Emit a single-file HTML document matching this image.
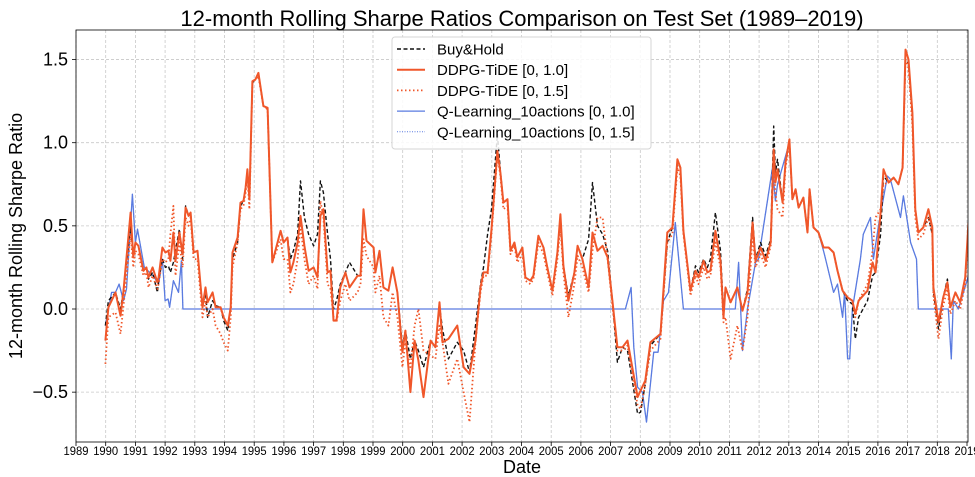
<!DOCTYPE html>
<html><head><meta charset="utf-8">
<style>
html,body{margin:0;padding:0;background:#fff;}
svg{display:block;font-family:"Liberation Sans","DejaVu Sans",sans-serif;}
</style></head>
<body>
<svg id="chart" width="975" height="477" viewBox="0 0 975 477" xmlns="http://www.w3.org/2000/svg">
<text x="522" y="26" font-size="22" text-anchor="middle" fill="#000">12-month Rolling Sharpe Ratios Comparison on Test Set (1989–2019)</text>
<text transform="translate(22,236) rotate(-90)" font-size="18" text-anchor="middle" fill="#000">12-month Rolling Sharpe Ratio</text>
<text x="522" y="473" font-size="18" text-anchor="middle" fill="#000">Date</text>
<g id="grid"></g>
<g id="series"></g>
<g id="axes"></g>
<g id="legend"></g>
</svg>
<script>
// ---- data ----
const ddpg10Dates = [1989.99,1990.09,1990.33,1990.50,1990.60,1990.84,1990.93,1991.00,1991.10,1991.27,1991.37,1991.44,1991.58,1991.74,1991.78,1991.91,1992.01,1992.11,1992.18,1992.28,1992.35,1992.48,1992.59,1992.69,1992.79,1992.86,1992.96,1993.09,1993.26,1993.36,1993.43,1993.60,1993.70,1993.87,1993.97,1994.11,1994.21,1994.27,1994.44,1994.54,1994.64,1994.71,1994.77,1994.84,1994.94,1995.04,1995.14,1995.31,1995.45,1995.61,1995.89,1995.99,1996.12,1996.22,1996.32,1996.46,1996.56,1996.69,1996.83,1997.00,1997.13,1997.23,1997.33,1997.47,1997.57,1997.67,1997.77,1997.90,1998.07,1998.21,1998.48,1998.58,1998.68,1998.78,1999.02,1999.08,1999.22,1999.35,1999.52,1999.66,1999.82,1999.99,2000.09,2000.26,2000.40,2000.53,2000.70,2000.94,2001.10,2001.24,2001.34,2001.54,2001.84,2002.05,2002.25,2002.45,2002.62,2002.72,2002.86,2002.99,2003.19,2003.29,2003.39,2003.53,2003.63,2003.76,2003.86,2004.03,2004.13,2004.30,2004.40,2004.57,2004.74,2004.87,2005.04,2005.21,2005.31,2005.41,2005.58,2005.78,2005.89,2006.05,2006.26,2006.39,2006.56,2006.73,2006.90,2007.06,2007.23,2007.40,2007.57,2007.91,2008.01,2008.17,2008.34,2008.68,2008.91,2009.08,2009.25,2009.35,2009.45,2009.69,2009.86,2009.96,2010.13,2010.26,2010.36,2010.53,2010.70,2010.80,2010.87,2011.04,2011.27,2011.44,2011.61,2011.78,2011.88,2012.05,2012.22,2012.39,2012.49,2012.55,2012.62,2012.79,2012.89,2013.02,2013.12,2013.23,2013.33,2013.49,2013.63,2013.70,2013.83,2014.00,2014.17,2014.34,2014.51,2014.64,2014.81,2014.98,2015.14,2015.24,2015.35,2015.65,2015.82,2015.92,2016.09,2016.19,2016.36,2016.53,2016.69,2016.83,2016.93,2017.03,2017.16,2017.26,2017.36,2017.53,2017.70,2017.83,2017.87,2018.04,2018.20,2018.34,2018.44,2018.61,2018.77,2018.94,2019.05];
const ddpg10Values = [-0.19,0.01,0.10,-0.04,0.11,0.58,0.31,0.40,0.38,0.23,0.25,0.19,0.25,0.16,0.19,0.37,0.34,0.35,0.29,0.46,0.29,0.46,0.33,0.61,0.56,0.58,0.34,0.35,0.01,0.13,0.04,0.10,0.01,0.01,-0.05,-0.10,0.01,0.34,0.43,0.64,0.65,0.73,0.84,0.66,1.37,1.38,1.42,1.22,1.21,0.28,0.47,0.40,0.43,0.22,0.28,0.40,0.56,0.38,0.23,0.25,0.19,0.56,0.60,0.22,0.23,-0.07,-0.07,0.13,0.22,0.13,0.20,0.20,0.60,0.41,0.37,0.22,0.35,0.13,0.11,0.25,0.10,-0.26,-0.13,-0.50,-0.19,-0.31,-0.53,-0.19,-0.23,0.04,-0.20,-0.18,-0.10,-0.35,-0.39,-0.19,0.13,0.22,0.22,0.48,0.95,0.82,0.64,0.66,0.35,0.40,0.31,0.37,0.19,0.17,0.20,0.44,0.37,0.25,0.11,0.34,0.57,0.26,0.05,0.22,0.38,0.30,0.13,0.46,0.35,0.38,0.31,0.05,-0.23,-0.23,-0.19,-0.53,-0.49,-0.43,-0.20,-0.15,0.46,0.49,0.90,0.85,0.47,0.11,0.23,0.19,0.29,0.22,0.23,0.47,0.29,-0.05,0.13,0.04,0.13,-0.01,0.10,0.52,0.29,0.37,0.29,0.40,0.96,0.76,0.84,0.64,0.88,1.02,0.66,0.72,0.61,0.67,0.46,0.72,0.49,0.46,0.37,0.37,0.34,0.23,0.11,0.07,0.05,-0.03,0.05,0.11,0.28,0.22,0.58,0.84,0.76,0.79,0.75,0.85,1.56,1.50,1.18,0.60,0.46,0.49,0.60,0.49,0.13,-0.08,0.07,0.16,0.01,0.10,0.04,0.19,0.52];

const buyHoldDates = [1989.99,1990.09,1990.33,1990.50,1990.60,1990.84,1990.93,1991.00,1991.10,1991.27,1991.37,1991.44,1991.58,1991.74,1991.78,1991.91,1992.01,1992.11,1992.18,1992.28,1992.35,1992.48,1992.59,1992.69,1992.79,1992.86,1992.96,1993.09,1993.26,1993.36,1993.43,1993.60,1993.70,1993.87,1993.97,1994.11,1994.21,1994.27,1994.44,1994.54,1994.64,1994.71,1994.77,1994.84,1994.94,1995.04,1995.14,1995.31,1995.45,1995.61,1995.89,1995.99,1996.12,1996.22,1996.32,1996.46,1996.56,1996.69,1996.83,1997.00,1997.13,1997.23,1997.33,1997.47,1997.57,1997.67,1997.77,1997.90,1998.07,1998.21,1998.48,1998.58,1998.68,1998.78,1999.02,1999.08,1999.22,1999.35,1999.52,1999.66,1999.82,1999.99,2000.09,2000.26,2000.40,2000.53,2000.70,2000.94,2001.10,2001.24,2001.34,2001.54,2001.84,2002.05,2002.25,2002.45,2002.62,2002.72,2002.86,2002.99,2003.19,2003.29,2003.39,2003.53,2003.63,2003.76,2003.86,2004.03,2004.13,2004.30,2004.40,2004.57,2004.74,2004.87,2005.04,2005.21,2005.31,2005.41,2005.58,2005.78,2005.89,2006.05,2006.26,2006.39,2006.56,2006.73,2006.90,2007.06,2007.23,2007.40,2007.57,2007.91,2008.01,2008.17,2008.34,2008.68,2008.91,2009.08,2009.25,2009.35,2009.45,2009.69,2009.86,2009.96,2010.13,2010.26,2010.36,2010.53,2010.70,2010.80,2010.87,2011.04,2011.27,2011.44,2011.61,2011.78,2011.88,2012.05,2012.22,2012.39,2012.49,2012.55,2012.62,2012.79,2012.89,2013.02,2013.12,2013.23,2013.33,2013.49,2013.63,2013.70,2013.83,2014.00,2014.17,2014.34,2014.51,2014.64,2014.81,2014.98,2015.14,2015.24,2015.35,2015.65,2015.82,2015.92,2016.09,2016.19,2016.36,2016.53,2016.69,2016.83,2016.93,2017.03,2017.16,2017.26,2017.36,2017.53,2017.70,2017.83,2017.87,2018.04,2018.20,2018.34,2018.44,2018.61,2018.77,2018.94,2019.05];
const buyHoldValues = [-0.10,0.05,0.10,0.00,0.11,0.50,0.31,0.40,0.38,0.23,0.25,0.18,0.22,0.10,0.17,0.30,0.25,0.26,0.22,0.28,0.35,0.48,0.30,0.62,0.56,0.58,0.34,0.35,0.01,0.10,-0.05,0.05,0.02,0.01,-0.07,-0.13,0.01,0.30,0.40,0.62,0.65,0.73,0.82,0.66,1.36,1.38,1.42,1.22,1.21,0.28,0.47,0.40,0.43,0.30,0.35,0.45,0.77,0.55,0.45,0.38,0.45,0.77,0.70,0.45,0.30,0.00,0.05,0.15,0.22,0.28,0.20,0.20,0.58,0.41,0.37,0.22,0.35,0.13,0.11,0.25,0.10,-0.22,-0.13,-0.30,-0.19,-0.25,-0.35,-0.19,-0.23,0.02,-0.12,-0.30,-0.20,-0.25,-0.38,-0.10,0.15,0.25,0.45,0.60,1.05,0.83,0.64,0.66,0.35,0.40,0.31,0.37,0.19,0.17,0.20,0.44,0.37,0.25,0.11,0.34,0.55,0.26,0.08,0.22,0.38,0.30,0.42,0.76,0.50,0.45,0.35,0.05,-0.32,-0.23,-0.25,-0.63,-0.62,-0.45,-0.22,-0.15,0.40,0.49,0.88,0.85,0.47,0.11,0.26,0.22,0.30,0.25,0.30,0.58,0.35,-0.02,0.13,0.04,0.13,-0.01,0.12,0.55,0.30,0.40,0.32,0.42,1.10,0.82,0.90,0.64,0.88,1.02,0.66,0.72,0.61,0.67,0.46,0.72,0.49,0.46,0.37,0.37,0.34,0.23,0.11,0.05,0.03,-0.18,-0.05,0.05,0.20,0.22,0.45,0.80,0.76,0.79,0.75,0.85,1.50,1.48,1.15,0.60,0.46,0.49,0.55,0.45,0.10,-0.12,0.07,0.18,0.01,0.10,0.04,0.19,0.50];

const ddpg15Dates = [1989.99,1990.09,1990.33,1990.50,1990.60,1990.84,1990.93,1991.00,1991.10,1991.27,1991.37,1991.44,1991.58,1991.74,1991.78,1991.91,1992.01,1992.11,1992.18,1992.28,1992.35,1992.48,1992.59,1992.69,1992.79,1992.86,1992.96,1993.09,1993.26,1993.36,1993.43,1993.60,1993.70,1993.87,1993.97,1994.11,1994.21,1994.27,1994.44,1994.54,1994.64,1994.71,1994.77,1994.84,1994.94,1995.04,1995.14,1995.31,1995.45,1995.61,1995.89,1995.99,1996.12,1996.22,1996.32,1996.46,1996.56,1996.69,1996.83,1997.00,1997.13,1997.23,1997.33,1997.47,1997.57,1997.67,1997.77,1997.90,1998.07,1998.21,1998.48,1998.58,1998.68,1998.78,1999.02,1999.08,1999.22,1999.35,1999.52,1999.66,1999.82,1999.99,2000.09,2000.26,2000.40,2000.53,2000.70,2000.94,2001.10,2001.24,2001.34,2001.54,2001.84,2002.05,2002.25,2002.45,2002.62,2002.72,2002.86,2002.99,2003.19,2003.29,2003.39,2003.53,2003.63,2003.76,2003.86,2004.03,2004.13,2004.30,2004.40,2004.57,2004.74,2004.87,2005.04,2005.21,2005.31,2005.41,2005.58,2005.78,2005.89,2006.05,2006.26,2006.39,2006.56,2006.73,2006.90,2007.06,2007.23,2007.40,2007.57,2007.91,2008.01,2008.17,2008.34,2008.68,2008.91,2009.08,2009.25,2009.35,2009.45,2009.69,2009.86,2009.96,2010.13,2010.26,2010.36,2010.53,2010.70,2010.80,2010.87,2011.04,2011.27,2011.44,2011.61,2011.78,2011.88,2012.05,2012.22,2012.39,2012.49,2012.55,2012.62,2012.79,2012.89,2013.02,2013.12,2013.23,2013.33,2013.49,2013.63,2013.70,2013.83,2014.00,2014.17,2014.34,2014.51,2014.64,2014.81,2014.98,2015.14,2015.24,2015.35,2015.65,2015.82,2015.92,2016.09,2016.19,2016.36,2016.53,2016.69,2016.83,2016.93,2017.03,2017.16,2017.26,2017.36,2017.53,2017.70,2017.83,2017.87,2018.04,2018.20,2018.34,2018.44,2018.61,2018.77,2018.94,2019.05];
const ddpg15Values = [-0.33,-0.05,-0.02,-0.15,0.02,0.45,0.25,0.35,0.33,0.20,0.22,0.13,0.20,0.12,0.15,0.30,0.28,0.30,0.45,0.62,0.20,0.40,0.25,0.55,0.50,0.55,0.30,0.30,-0.05,0.05,-0.05,0.00,-0.10,-0.15,-0.20,-0.25,-0.05,0.25,0.40,0.60,0.62,0.70,0.80,0.60,1.36,1.38,1.40,1.22,1.20,0.28,0.42,0.30,0.30,0.10,0.15,0.30,0.50,0.30,0.15,0.20,0.12,0.65,0.55,0.15,0.12,-0.05,-0.08,0.05,0.15,0.05,0.10,0.15,0.42,0.32,0.25,0.10,0.20,-0.05,-0.10,0.10,-0.05,-0.35,-0.20,-0.35,-0.10,0.00,-0.25,-0.28,-0.30,-0.10,-0.20,-0.45,-0.30,-0.50,-0.68,-0.20,0.10,0.20,0.20,0.45,0.93,0.80,0.60,0.62,0.33,0.38,0.28,0.33,0.17,0.15,0.18,0.40,0.33,0.22,0.08,0.30,0.50,0.22,-0.05,0.15,0.32,0.25,0.10,0.35,0.55,0.55,0.30,0.02,-0.25,-0.25,-0.22,-0.58,-0.60,-0.45,-0.25,-0.18,0.40,0.45,0.85,0.80,0.45,0.08,0.20,0.15,0.25,0.18,0.20,0.40,0.25,-0.08,-0.05,-0.30,-0.10,-0.25,-0.05,0.45,0.25,0.33,0.25,0.38,0.90,0.70,0.60,0.55,0.85,1.00,0.66,0.72,0.61,0.67,0.46,0.72,0.49,0.46,0.37,0.37,0.34,0.23,0.11,0.07,0.05,-0.05,0.05,0.15,0.35,0.55,0.60,0.75,0.76,0.79,0.75,0.85,1.50,1.45,1.10,0.55,0.42,0.45,0.55,0.45,0.08,-0.18,0.02,0.12,-0.03,0.05,0.00,0.15,0.48];

const qlearn10Dates = [1989.99,1990.20,1990.33,1990.45,1990.60,1990.70,1990.90,1991.00,1991.07,1991.30,1991.60,1991.78,1991.91,1992.00,1992.10,1992.15,1992.28,1992.45,1992.55,1992.60,2007.50,2007.69,2007.78,2007.91,2008.07,2008.21,2008.45,2008.60,2008.78,2008.95,2009.18,2009.45,2011.20,2011.31,2011.44,2011.61,2011.88,2011.98,2012.45,2012.55,2012.62,2013.02,2013.12,2013.23,2013.33,2013.49,2013.63,2013.70,2013.83,2014.00,2014.17,2014.24,2014.51,2014.64,2014.81,2014.88,2014.98,2015.05,2015.14,2015.41,2015.51,2015.75,2015.85,2016.02,2016.32,2016.42,2016.76,2016.86,2017.10,2017.30,2017.36,2018.37,2018.47,2018.54,2018.71,2019.05];
const qlearn10Values = [-0.10,0.10,0.10,0.15,0.05,0.12,0.69,0.40,0.48,0.25,0.20,0.15,0.30,0.05,0.06,0.01,0.17,0.10,0.29,0.00,0.00,0.13,-0.23,-0.47,-0.50,-0.68,-0.26,-0.26,0.05,0.10,0.52,0.00,0.00,0.28,-0.25,0.00,0.28,0.30,0.85,0.65,0.75,1.00,0.66,0.72,0.61,0.67,0.46,0.72,0.49,0.46,0.35,0.30,0.10,0.15,-0.05,0.10,-0.30,-0.30,0.00,0.30,0.45,0.55,0.30,0.50,0.80,0.78,0.55,0.68,0.40,0.30,0.00,0.00,-0.30,0.05,0.00,0.20];

const qlearn15Dates = qlearn10Dates.slice();
const qlearn15Values = qlearn10Values.slice();

const xTickYears = [1989,1990,1991,1992,1993,1994,1995,1996,1997,1998,1999,2000,2001,2002,2003,2004,2005,2006,2007,2008,2009,2010,2011,2012,2013,2014,2015,2016,2017,2018,2019];
const yTickValues = [-0.5,0.0,0.5,1.0,1.5];
const yTickLabels = ["\u22120.5","0.0","0.5","1.0","1.5"];
const legendLabels = ["Buy&Hold","DDPG-TiDE [0, 1.0]","DDPG-TiDE [0, 1.5]","Q-Learning_10actions [0, 1.0]","Q-Learning_10actions [0, 1.5]"];

// ---- layout ----
const NS = "http://www.w3.org/2000/svg";
const L = 76, R = 968, T = 30, B = 442;
const X0 = 1989, XPX = 29.7;
const Y0PX = 309, YPX = 166.3;
function xs(v){ return L + (v - X0) * XPX; }
function ys(v){ return Y0PX - v * YPX; }
function mk(tag, attrs, parent){
  const e = document.createElementNS(NS, tag);
  for (const k in attrs) e.setAttribute(k, attrs[k]);
  parent.appendChild(e); return e;
}
const grid = document.getElementById('grid');
const axes = document.getElementById('axes');
const series = document.getElementById('series');
const legend = document.getElementById('legend');

xTickYears.forEach(function(yr){
  const x = xs(yr);
  const g = mk('line', {x1:x, x2:x, y1:T, y2:B, stroke:'#c8c8c8', 'stroke-width':0.8, 'stroke-dasharray':'3,2'}, grid);
  
  
  const t = mk('line', {x1:x, x2:x, y1:B, y2:B+4, stroke:'#000', 'stroke-width':0.8}, axes);
  
  
  const lb = mk('text', {x:x, y:B+13, 'font-size':12, 'text-anchor':'middle', fill:'#000', textLength:25, lengthAdjust:'spacingAndGlyphs'}, axes);
  
  
  lb.textContent = String(yr);
});
yTickValues.forEach(function(v, i){
  const y = ys(v);
  const g = mk('line', {x1:L, x2:R, y1:y, y2:y, stroke:'#c8c8c8', 'stroke-width':0.8, 'stroke-dasharray':'3,2'}, grid);
  
  
  const t = mk('line', {x1:L-4, x2:L, y1:y, y2:y, stroke:'#000', 'stroke-width':0.8}, axes);
  
  
  const lb = mk('text', {x:L-8, y:y+6, 'font-size':18, 'text-anchor':'end', fill:'#000'}, axes);
  
  
  lb.textContent = yTickLabels[i];
});
const frame = mk('rect', {x:L, y:T, width:R-L, height:B-T, fill:'none', stroke:'#000', 'stroke-width':0.8}, axes);



const clip = mk('clipPath', {id:'pc'}, document.getElementById('chart'));
mk('rect', {x:L, y:T, width:R-L, height:B-T}, clip);
series.setAttribute('clip-path', 'url(#pc)');

function drawLine(dates, vals, stroke, width, dash, name){
  let d = '';
  for (let i = 0; i < dates.length; i++){
    d += (i ? 'L' : 'M') + xs(dates[i]).toFixed(1) + ',' + ys(vals[i]).toFixed(1);
  }
  const p = mk('path', {d:d, fill:'none', stroke:stroke, 'stroke-width':width, 'stroke-linejoin':'round'}, series);
  if (dash) p.setAttribute('stroke-dasharray', dash);
  
  
}
const ORANGE = '#f0572a', BLUE = '#5a7be0';
drawLine(qlearn15Dates, qlearn15Values, BLUE, 1, '1,1.5', 'qlearning-1-5-line');
drawLine(qlearn10Dates, qlearn10Values, BLUE, 1.3, null, 'qlearning-1-0-line');
drawLine(buyHoldDates, buyHoldValues, '#111', 1.4, '4,2.5', 'buy-hold-line');
drawLine(ddpg15Dates, ddpg15Values, ORANGE, 1.8, '1.5,2.5', 'ddpg-1-5-line');
drawLine(ddpg10Dates, ddpg10Values, ORANGE, 2, null, 'ddpg-1-0-line');

// legend
const lbox = mk('rect', {x:392, y:37, width:259, height:112, rx:3, fill:'#fff', 'fill-opacity':0.85, stroke:'#d6d6d6', 'stroke-width':1}, legend);


const lstyles = [['#111',1.4,'4,2.5'],[ORANGE,2,null],[ORANGE,1.8,'1.5,2.5'],[BLUE,1.3,null],[BLUE,1,'1,1.5']];
legendLabels.forEach(function(lbl, i){
  const y = 49 + i * 20.7;
  const s = lstyles[i];
  const ln = mk('line', {x1:397, x2:425, y1:y, y2:y, stroke:s[0], 'stroke-width':s[1]}, legend);
  if (s[2]) ln.setAttribute('stroke-dasharray', s[2]);
  
  
  const t = mk('text', {x:437, y:y+5.5, 'font-size':15, fill:'#000'}, legend);
  
  
  t.textContent = lbl;
});
</script>
</body></html>
